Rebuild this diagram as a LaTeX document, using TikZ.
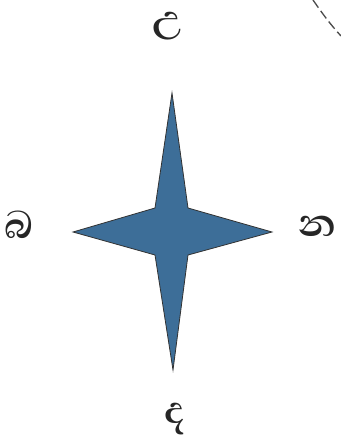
\documentclass[tikz,border=0pt]{standalone}
\usepackage{fontspec}
\newfontfamily\sinhalafont[Script=Sinhala]{Abhaya Libre}
\usepackage{xcolor}
\usepackage{tikz}
\usetikzlibrary{calc}

\definecolor{starblue}{RGB}{61,110,152}

\begin{document}
\begin{tikzpicture}[
          x=0.75pt, y=-0.75pt,
          dirlabel/.style={inner sep=0pt, anchor=base, font=\sinhalafont\bfseries\fontsize{37}{42}\selectfont, text=black!85},
          starfill/.style={fill=starblue, draw=black!80, line width=0.6pt, line join=miter},
          rim/.style={draw=black!70, line width=1pt, dash pattern=on 7pt off 3pt}
        ]
          % Frame
          \useasboundingbox (0,0) rectangle (340,438);

          % Star centre
          \coordinate (c) at (172,232);

          % Four-pointed star
          \path[starfill] (172,93) -- (188,208) -- (272,232) -- (188,255)
                -- (173,370) -- (155,255) -- (73,232) -- (155,208) -- cycle;

          % Direction letters
          \node[dirlabel] (north) at (168,33) {උ};
          \node[dirlabel] (west) at (19,238) {බ};
          \node[dirlabel] (east) at (317,236) {න};
          \node[dirlabel] (south) at (175,423) {ද};

          % Edge of the outer ring
          \draw[rim] (313,0) .. controls (322,13) and (330,24) .. (341,36);
        \end{tikzpicture}
\end{document}
